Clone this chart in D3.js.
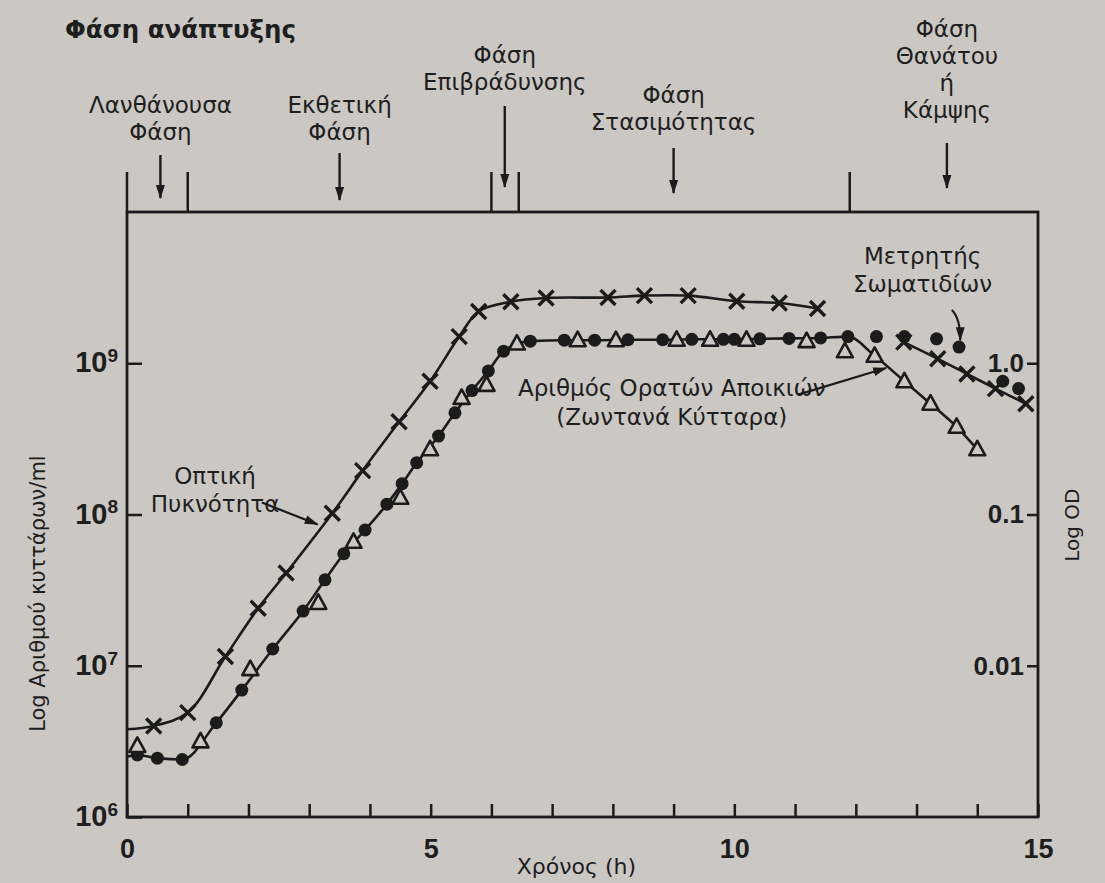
<!DOCTYPE html>
<html>
<head>
<meta charset="utf-8">
<script src="https://cdn.jsdelivr.net/npm/d3@7"></script>
<style>
  body { margin: 0; background: #cbc8c4; }
  svg { display: block; }
  text { fill: #1e1e1e; font-family: "DejaVu Sans", sans-serif; }
  .num { font-family: "Liberation Sans", Arial, sans-serif; font-weight: bold; }
</style>
</head>
<body>
<script>
// ---- data ----
const hours = d3.range(0, 16);
const hourLabels = [0, 5, 10, 15];
const cellTicks = [1e6, 1e7, 1e8, 1e9];
const odTicks = [0.01, 0.1, 1];

// optical density (x markers), OD units
const odStart = [0, 0.0038];
const odMain = [[0.44,0.0040],[1.0,0.0049],[1.62,0.0115],[2.16,0.024],[2.62,0.041],[3.38,0.102],
  [3.88,0.195],[4.48,0.41],[4.99,0.76],[5.47,1.5],[5.79,2.2],[6.32,2.55],[6.9,2.7],[7.92,2.72],
  [8.52,2.8],[9.24,2.8],[10.04,2.57],[10.74,2.5],[11.37,2.3]];
const odDeath = [[12.79,1.38],[13.35,1.07],[13.83,0.85],[14.3,0.68],[14.8,0.54]];

// particle counter (dots), cells/ml
const countStart = [0, 2.5e6];
const totalCount = [[0.17,2.57e6],[0.5,2.45e6],[0.91,2.4e6],[1.47,4.2e6],[1.89,6.9e6],[2.4,1.29e7],
  [2.9,2.3e7],[3.26,3.7e7],[3.57,5.5e7],[3.92,7.9e7],[4.28,1.17e8],[4.53,1.6e8],[4.77,2.2e8],
  [5.13,3.3e8],[5.4,4.7e8],[5.68,6.6e8],[5.95,8.9e8],[6.2,1.2e9],[6.64,1.4e9],[7.2,1.42e9],
  [7.7,1.42e9],[8.25,1.43e9],[8.82,1.43e9],[9.3,1.44e9],[9.82,1.44e9],[10.0,1.44e9],[10.42,1.45e9],
  [10.9,1.46e9],[11.42,1.47e9],[11.87,1.5e9],[12.34,1.5e9],[12.8,1.5e9],[13.33,1.45e9],
  [13.7,1.28e9],[14.42,7.6e8],[14.68,6.8e8]];

// viable colonies (open triangles), cells/ml
const viableCount = [[0.17,2.95e6],[1.21,3.16e6],[2.03,9.5e6],[3.15,2.6e7],[3.73,6.6e7],[4.5,1.29e8],
  [4.99,2.7e8],[5.51,5.9e8],[5.92,7.2e8],[6.42,1.35e9],[7.42,1.42e9],[8.05,1.42e9],[9.05,1.43e9],
  [9.6,1.43e9],[10.2,1.43e9],[11.19,1.4e9],[11.82,1.2e9],[12.31,1.12e9],[12.8,7.6e8],[13.23,5.4e8],
  [13.66,3.8e8],[14.0,2.7e8]];

// growth phases
const phaseBounds = [0, 1, 6, 6.45, 11.9];
const phaseArrows = [0.55, 3.5, 6.22, 9.0, 13.5];
const phaseNames = [["Λανθάνουσα","Φάση"],["Εκθετική","Φάση"],["Φάση","Επιβράδυνσης"],
  ["Φάση","Στασιμότητας"],["Φάση","Θανάτου","ή","Κάμψης"]];

// ---- layout ----
const W = 1105, H = 883;
const frame = {left: 127, right: 1038, top: 212, bottom: 817};
const phaseLayout = [
  {base: 113, a0: 155, a1: 198},
  {base: 113, a0: 153, a1: 200},
  {base: 63,  a0: 106, a1: 187},
  {base: 103, a0: 148, a1: 193},
  {base: 37,  a0: 143, a1: 188}
];
const ink = "#1b1b1b", paper = "#cbc8c4";

const svg = d3.select("body").append("svg").attr("width", W).attr("height", H);
svg.append("rect").attr("width", W).attr("height", H).attr("fill", paper);

svg.append("defs").append("marker")
  .attr("id", "head").attr("viewBox", "0 -5 14 10")
  .attr("refX", 13).attr("refY", 0)
  .attr("markerUnits", "userSpaceOnUse")
  .attr("markerWidth", 14).attr("markerHeight", 10)
  .attr("orient", "auto")
  .append("path").attr("d", "M0,-4.5L14,0L0,4.5Z").attr("fill", ink);

const x = d3.scaleLinear().domain([0, 15]).range([frame.left, frame.right]);
const y = d3.scaleLog().domain([1e6, 1e10]).range([frame.bottom, frame.top]);
const yOD = d3.scaleLog().domain([1e-3, 10]).range([frame.bottom, frame.top]);

// frame
svg.append("rect")
  .attr("x", frame.left).attr("y", frame.top)
  .attr("width", frame.right - frame.left).attr("height", frame.bottom - frame.top)
  .attr("fill", "none").attr("stroke", ink).attr("stroke-width", 2.8);

// bottom axis
const xAxis = d3.axisBottom(x).tickValues(hours).tickSizeInner(-13).tickSizeOuter(0).tickPadding(22)
  .tickFormat(d => hourLabels.includes(d) ? d : "");
const gx = svg.append("g").attr("transform", `translate(0,${frame.bottom})`).call(xAxis);
gx.select(".domain").remove();
gx.selectAll(".tick line").attr("stroke", ink).attr("stroke-width", 2.5);
gx.selectAll(".tick text").attr("class", "num").attr("font-size", 27).attr("fill", ink);

// left axis
const yAxis = d3.axisLeft(y).tickValues(cellTicks).tickSizeInner(-15).tickSizeOuter(0).tickFormat("");
const gy = svg.append("g").attr("transform", `translate(${frame.left},0)`).call(yAxis);
gy.select(".domain").remove();
gy.selectAll(".tick line").attr("stroke", ink).attr("stroke-width", 2.5);
gy.selectAll(".tick").append("text")
  .attr("class", "num").attr("x", -9).attr("dy", "0.3em").attr("text-anchor", "end")
  .attr("font-size", 29).attr("fill", ink)
  .each(function(d) {
    const t = d3.select(this);
    t.append("tspan").text("10");
    t.append("tspan").attr("font-size", 19).attr("dy", "-0.55em").text(Math.round(Math.log10(d)));
  });

// right axis
const yAxisR = d3.axisRight(yOD).tickValues(odTicks).tickSizeInner(-11).tickSizeOuter(0)
  .tickFormat(d => d === 1 ? "1.0" : d);
const gr = svg.append("g").attr("transform", `translate(${frame.right},0)`).call(yAxisR);
gr.select(".domain").remove();
gr.selectAll(".tick line").attr("stroke", ink).attr("stroke-width", 2.5);
gr.selectAll(".tick text").attr("class", "num").attr("x", -14).attr("text-anchor", "end")
  .attr("font-size", 26).attr("fill", ink);

// axis titles
svg.append("text").attr("transform", `translate(38,${(y(3e7))}) rotate(-90)`)
  .attr("text-anchor", "middle").attr("dy", "0.35em").attr("font-size", 21)
  .text("Log Αριθμού κυττάρων/ml");
svg.append("text").attr("transform", `translate(1072,${yOD(0.085)}) rotate(-90)`)
  .attr("text-anchor", "middle").attr("dy", "0.35em").attr("font-size", 20)
  .text("Log OD");
svg.append("text").attr("x", x(7.4)).attr("y", 874).attr("text-anchor", "middle")
  .attr("font-size", 22).text("Χρόνος (h)");

// curves
const lineCells = d3.line().x(d => x(d[0])).y(d => y(d[1])).curve(d3.curveMonotoneX);
const lineOD = d3.line().x(d => x(d[0])).y(d => yOD(d[1])).curve(d3.curveCatmullRom.alpha(0.5));

const countLine = [countStart].concat(
  totalCount.filter(d => d[0] < 12), viableCount.filter(d => d[0] > 12.2));

svg.append("path").datum([odStart].concat(odMain)).attr("d", lineOD)
  .attr("fill", "none").attr("stroke", ink).attr("stroke-width", 2.6);
svg.append("path").datum(odDeath).attr("d", lineOD)
  .attr("fill", "none").attr("stroke", ink).attr("stroke-width", 2.6);
svg.append("path").datum(countLine).attr("d", lineCells)
  .attr("fill", "none").attr("stroke", ink).attr("stroke-width", 2.6);

// markers
svg.append("g").selectAll("circle").data(totalCount).join("circle")
  .attr("cx", d => x(d[0])).attr("cy", d => y(d[1])).attr("r", 6.5).attr("fill", ink);

svg.append("g").selectAll("path").data(viableCount).join("path")
  .attr("transform", d => `translate(${x(d[0])},${y(d[1])})`)
  .attr("d", "M0,-8.5L8,6L-8,6Z")
  .attr("fill", paper).attr("stroke", ink).attr("stroke-width", 2.6).attr("stroke-linejoin", "round");

svg.append("g").selectAll("path").data(odMain.concat(odDeath)).join("path")
  .attr("transform", d => `translate(${x(d[0])},${yOD(d[1])})`)
  .attr("d", "M-7.5,-7.5L7.5,7.5M-7.5,7.5L7.5,-7.5")
  .attr("fill", "none").attr("stroke", ink).attr("stroke-width", 3.4);

// curve labels with pointers
function label(lines, cx, base, step, size) {
  const t = svg.append("text").attr("text-anchor", "middle").attr("font-size", size);
  lines.forEach((s, i) => t.append("tspan").attr("x", cx).attr("y", base + i * step).text(s));
}
function pointer(a, b) {
  svg.append("line").attr("x1", a[0]).attr("y1", a[1]).attr("x2", b[0]).attr("y2", b[1])
    .attr("stroke", ink).attr("stroke-width", 2.2).attr("marker-end", "url(#head)");
}

label(["Οπτική", "Πυκνότητα"], x(1.45), y(1.6e8), 28, 23);
pointer([x(2.22), y(1.2e8)], [x(3.14), y(8.6e7)]);

label(["Αριθμός Ορατών Αποικιών", "(Ζωντανά Κύτταρα)"], x(8.97), y(6.1e8), 29, 23);
pointer([x(11.05), y(6.2e8)], [x(12.5), y(9.3e8)]);

label(["Μετρητής", "Σωματιδίων"], x(13.1), y(4.55e9), 28, 23);
svg.append("path")
  .attr("d", `M${x(13.58)},${y(2.25e9)} Q${x(13.72)},${y(2.0e9)} ${x(13.72)},${y(1.42e9)}`)
  .attr("fill", "none").attr("stroke", ink).attr("stroke-width", 2.2).attr("marker-end", "url(#head)");

// growth phase header
svg.append("text").attr("x", 65).attr("y", 38).attr("font-size", 24.5).attr("font-weight", "bold")
  .text("Φάση ανάπτυξης");

svg.append("g").selectAll("line").data(phaseBounds).join("line")
  .attr("x1", d => x(d)).attr("x2", d => x(d))
  .attr("y1", 172).attr("y2", frame.top)
  .attr("stroke", ink).attr("stroke-width", 2.5);

phaseArrows.forEach((t, i) => {
  const L = phaseLayout[i];
  label(phaseNames[i], x(t), L.base, 27, 23);
  svg.append("line").attr("x1", x(t)).attr("x2", x(t)).attr("y1", L.a0).attr("y2", L.a1)
    .attr("stroke", ink).attr("stroke-width", 2.4).attr("marker-end", "url(#head)");
});
</script>
</body>
</html>
